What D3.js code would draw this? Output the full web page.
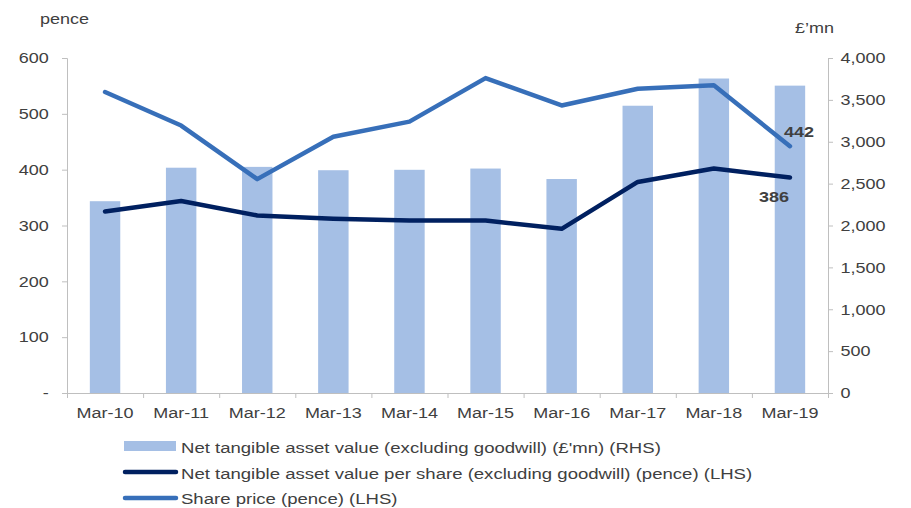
<!DOCTYPE html>
<html>
<head>
<meta charset="utf-8">
<script src="https://cdn.jsdelivr.net/npm/d3@7"></script>
<style>
  body { margin: 0; background: #fff; }
  text { font-family: "Liberation Sans", Arial, sans-serif; font-size: 15px; fill: #404040; }
  .axis path, .axis line { stroke: #bfbfbf; }
</style>
</head>
<body>
<div id="chart"></div>
<script>
var years = ["Mar-10","Mar-11","Mar-12","Mar-13","Mar-14","Mar-15","Mar-16","Mar-17","Mar-18","Mar-19"];
var ntav = [2290, 2690, 2700, 2660, 2665, 2680, 2555, 3430, 3755, 3670];
var ntavPerShare = [325, 344, 318, 312, 309, 309, 294, 378, 402, 386];
var sharePrice = [539, 479, 383, 459, 486, 564, 515, 545, 551, 442];
var leftTicks = [0, 100, 200, 300, 400, 500, 600];
var rightTicks = [0, 500, 1000, 1500, 2000, 2500, 3000, 3500, 4000];
var legendNames = [
  "Net tangible asset value (excluding goodwill) (\u00a3'mn) (RHS)",
  "Net tangible asset value per share (excluding goodwill) (pence) (LHS)",
  "Share price (pence) (LHS)"
];

var W = 911, H = 508, SX = 1.2; // text in the reference is stretched sideways
var cBar = "#a5bfe5", cNavy = "#002060", cPrice = "#376fb9";

var svg = d3.select("#chart").append("svg").attr("width", W).attr("height", H);

var x = d3.scaleBand().domain(years).range([67, 828]).paddingInner(0.6).paddingOuter(0.3);
var xB = d3.scaleLinear().domain([0, 10]).range([67, 828]);
var yL = d3.scaleLinear().domain([0, 600]).range([393, 58]);
var yR = d3.scaleLinear().domain([0, 4000]).range([393, 58]);

function label(g, tx, ty, str, anchor, sx) {
  return g.append("text").attr("transform", "translate(" + tx + "," + ty + ") scale(" + (sx || SX) + ",1)")
    .attr("text-anchor", anchor || "start").text(str);
}

// bars
svg.append("g").selectAll("rect").data(ntav).enter().append("rect")
  .attr("x", function(d, i) { return x(years[i]); })
  .attr("y", function(d) { return yR(d); })
  .attr("width", x.bandwidth())
  .attr("height", function(d) { return yR(0) - yR(d); })
  .attr("fill", cBar);

// axes
var gl = svg.append("g").attr("class", "axis").attr("transform", "translate(67,0)")
  .call(d3.axisLeft(yL).tickValues(leftTicks).tickSize(5).tickPadding(13.3)
    .tickFormat(function(d) { return d === 0 ? "-" : d; }));
var gr = svg.append("g").attr("class", "axis").attr("transform", "translate(828,0)")
  .call(d3.axisRight(yR).tickValues(rightTicks).tickSize(5).tickPadding(7.5).tickFormat(d3.format(",")));
var gx = svg.append("g").attr("class", "axis").attr("transform", "translate(0,393)")
  .call(d3.axisBottom(xB).ticks(10).tickSize(5).tickFormat(""));
var gxl = svg.append("g").attr("class", "axis").attr("transform", "translate(0,393)")
  .call(d3.axisBottom(x).tickSize(0).tickPadding(14));
gxl.select(".domain").remove();
[gl, gr, gxl].forEach(function(g) {
  g.selectAll("text").attr("font-size", null).attr("font-family", null).attr("fill", null)
    .attr("transform", "scale(" + SX + ",1)")
    .attr("x", function() { return +d3.select(this).attr("x") / SX || 0; });
});
gxl.selectAll("text").attr("x", null);
svg.selectAll(".axis").attr("font-size", null).attr("font-family", null);

// lines
var lineL = d3.line()
  .x(function(d, i) { return x(years[i]) + x.bandwidth() / 2; })
  .y(function(d) { return yL(d); });

svg.append("path").datum(ntavPerShare).attr("d", lineL)
  .attr("fill", "none").attr("stroke", cNavy).attr("stroke-width", 4.5)
  .attr("stroke-linecap", "round").attr("stroke-linejoin", "round");
svg.append("path").datum(sharePrice).attr("d", lineL)
  .attr("fill", "none").attr("stroke", cPrice).attr("stroke-width", 4.5)
  .attr("stroke-linecap", "round").attr("stroke-linejoin", "round");

// end labels
var last = years.length - 1;
label(svg, x(years[last]) + x.bandwidth() / 2 + 9, yL(sharePrice[last]) - 9, sharePrice[last], "middle")
  .attr("font-weight", "bold");
label(svg, x(years[last]) + x.bandwidth() / 2 - 16, yL(ntavPerShare[last]) + 25, ntavPerShare[last], "middle")
  .attr("font-weight", "bold");

// axis titles
label(svg, 40, 24, "pence");
label(svg, 795, 33, "\u00a3\u2019mn");

// legend
var lg = svg.append("g");
lg.append("rect").attr("x", 124).attr("y", 441).attr("width", 52).attr("height", 10).attr("fill", cBar);
[cNavy, cPrice].forEach(function(c, i) {
  lg.append("line").attr("x1", 125).attr("x2", 176).attr("y1", 472 + i * 26).attr("y2", 472 + i * 26)
    .attr("stroke", c).attr("stroke-width", 4.5).attr("stroke-linecap", "round");
});
legendNames.forEach(function(n, i) {
  label(lg, 181, 453 + i * 25.5, n, "start", 1.238);
});
</script>
</body>
</html>
